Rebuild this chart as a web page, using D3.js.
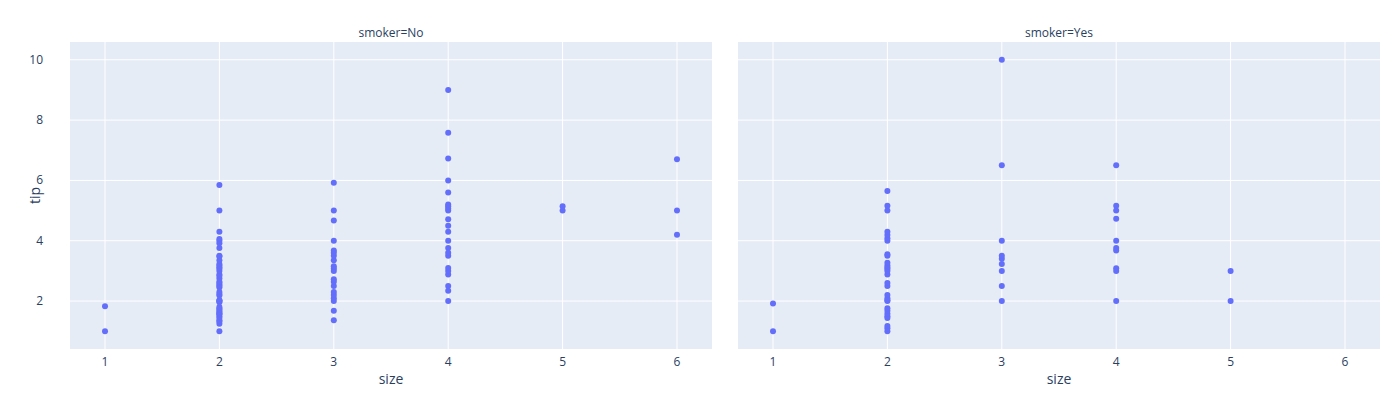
<!DOCTYPE html>
<html><head><meta charset="utf-8">
<script src="https://cdn.jsdelivr.net/npm/d3@7"></script>
<style>body{margin:0;background:#fff;font-family:"Open Sans",Verdana,sans-serif;}</style>
</head><body><div id="chart"></div>
<script>
var panels = ["smoker=No", "smoker=Yes"];
var noSize = [1,1, 2,2,2,2,2,2,2,2,2,2,2,2,2,2,2,2,2,2,2,2,2,2,2,2,2,2,2,2,2,2,2,2,2,2,2,2,2,2,2,2,2,2,2,
  3,3,3,3,3,3,3,3,3,3,3,3,3,3,3,3,3,3,3,3, 4,4,4,4,4,4,4,4,4,4,4,4,4,4,4,4,4,4,4,4,4,4, 5,5, 6,6,6];
var noTip = [1.0,1.83,
  1.0,1.25,1.32,1.36,1.44,1.5,1.56,1.58,1.61,1.66,1.71,1.75,1.8,1.96,2.0,2.01,2.03,2.18,2.23,2.3,2.45,2.5,2.54,2.6,2.64,2.75,2.83,2.88,3.0,3.07,3.12,3.18,3.23,3.35,3.48,3.5,3.76,3.92,4.0,4.06,4.3,5.0,5.85,
  1.36,1.68,2.0,2.09,2.2,2.3,2.5,2.64,2.72,3.0,3.08,3.15,3.35,3.5,3.6,3.68,4.0,4.67,5.0,5.92,
  2.0,2.34,2.5,2.88,3.0,3.1,3.5,3.6,3.76,4.0,4.3,4.5,4.71,5.0,5.07,5.14,5.2,5.6,6.0,6.73,7.58,9.0,
  5.0,5.14, 4.2,5.0,6.7];
var yesSize = [1,1, 2,2,2,2,2,2,2,2,2,2,2,2,2,2,2,2,2,2,2,2,2,2,2,2,2,2,2,2,2,
  3,3,3,3,3,3,3,3,3, 4,4,4,4,4,4,4,4,4,4, 5,5];
var yesTip = [1.0,1.92,
  1.0,1.1,1.17,1.44,1.5,1.58,1.68,1.76,2.0,2.03,2.09,2.2,2.5,2.6,2.88,3.0,3.06,3.11,3.18,3.27,3.5,3.55,4.0,4.08,4.19,4.3,5.0,5.16,5.65,
  2.0,2.5,3.0,3.23,3.4,3.5,4.0,6.5,10.0,
  2.0,3.0,3.09,3.68,3.76,4.0,4.73,5.0,5.16,6.5,
  2.0,3.0];
var xTicks = [1,2,3,4,5,6];
var yTicks = [2,4,6,8,10];

var W = 1400, H = 401, plotTop = 42, plotBottom = 349;
var lefts = [70, 738], pw = 642;
var sizes = [noSize, yesSize], tips = [noTip, yesTip];
var ink = "#2a3f5f";

var svg = d3.select("#chart").append("svg").attr("width", W).attr("height", H);
var y = d3.scaleLinear().domain([0.41, 10.59]).range([plotBottom, plotTop]);

panels.forEach(function(name, i) {
  var x = d3.scaleLinear().domain([0.694, 6.306]).range([lefts[i], lefts[i] + pw]);
  var g = svg.append("g");
  g.append("rect").attr("x", lefts[i]).attr("y", plotTop).attr("width", pw).attr("height", plotBottom - plotTop).attr("fill", "#E5ECF6");
  g.selectAll(".gx").data(xTicks).enter().append("line")
    .attr("x1", function(d){return x(d);}).attr("x2", function(d){return x(d);})
    .attr("y1", plotTop).attr("y2", plotBottom).attr("stroke", "#fff").attr("stroke-width", 1);
  g.selectAll(".gy").data(yTicks).enter().append("line")
    .attr("y1", function(d){return y(d);}).attr("y2", function(d){return y(d);})
    .attr("x1", lefts[i]).attr("x2", lefts[i] + pw).attr("stroke", "#fff").attr("stroke-width", 1);
  g.selectAll(".tx").data(xTicks).enter().append("text")
    .attr("x", function(d){return x(d);}).attr("y", plotBottom + 17).attr("text-anchor", "middle")
    .attr("font-size", 12).attr("fill", ink).text(function(d){return d;});
  if (i === 0) {
    g.selectAll(".ty").data(yTicks).enter().append("text")
      .attr("x", lefts[i] - 27).attr("y", function(d){return y(d) + 4;}).attr("text-anchor", "end")
      .attr("font-size", 12).attr("fill", ink).text(function(d){return d;});
    g.append("text").attr("transform", "translate(40," + (plotTop + plotBottom) / 2 + ") rotate(-90)")
      .attr("text-anchor", "middle").attr("font-size", 14).attr("fill", ink).text("tip");
  }
  g.append("text").attr("x", lefts[i] + pw / 2).attr("y", plotBottom + 35).attr("text-anchor", "middle")
    .attr("font-size", 14).attr("fill", ink).text("size");
  g.append("text").attr("x", lefts[i] + pw / 2).attr("y", 37).attr("text-anchor", "middle")
    .attr("font-size", 12).attr("fill", ink).text(name);
  g.selectAll(".pt").data(d3.range(sizes[i].length)).enter().append("circle")
    .attr("cx", function(k){return x(sizes[i][k]);}).attr("cy", function(k){return y(tips[i][k]);})
    .attr("r", 3).attr("fill", "#636efa");
});
</script></body></html>
